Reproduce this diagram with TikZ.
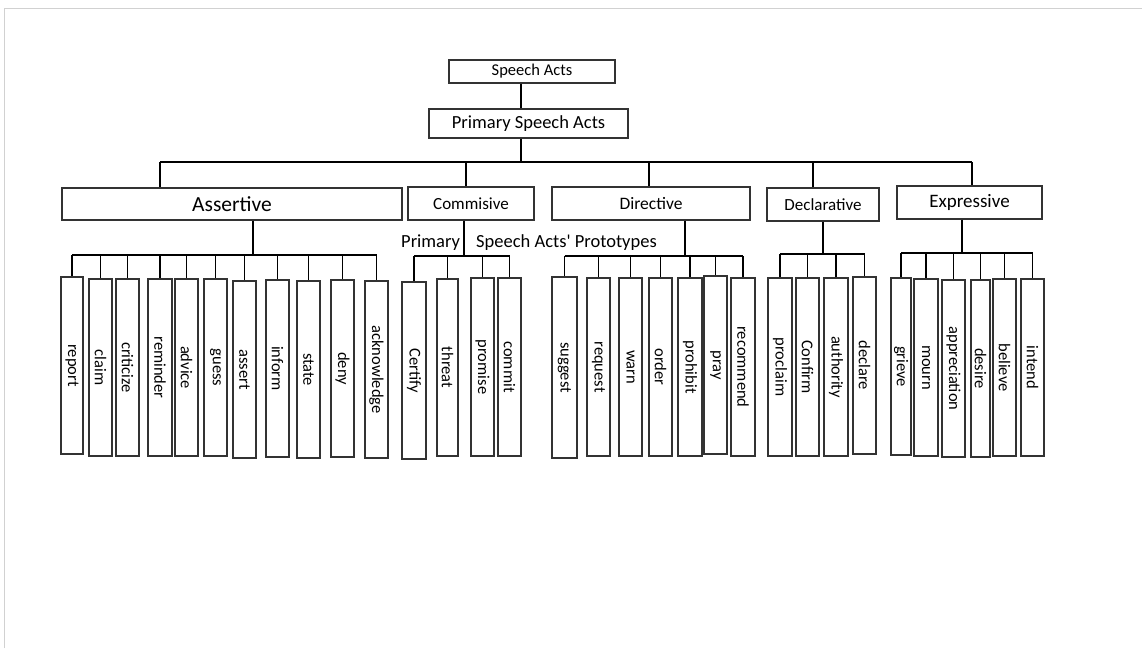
\documentclass[tikz,border=0pt]{standalone}
\usepackage{fontspec}
\setmainfont{Carlito}[Ligatures=TeXOff]
\tikzset{
  conn/.style={line width=1.8pt, black},
  boxst/.style={draw=black!80, line width=1.1pt, inner sep=0pt, fill=white, text=black},
  leaf/.style={boxst, rotate=-90, font=\fontsize{16.5}{18}\selectfont},
  cat/.style={boxst, font=\fontsize{17}{20}\selectfont},
}
\newcommand\leafbox[6]{%
  \pgfmathsetmacro\lw{#5-#4}\pgfmathsetmacro\lh{#3-#2}%
  \node[leaf, minimum width=\lw pt, minimum height=\lh pt] (#1) at ({(#2+#3)/2},{(#4+#5)/2}) {#6};}
\newcommand\catbox[7]{% name x1 x2 y1 y2 font text
  \pgfmathsetmacro\cw{#3-#2}\pgfmathsetmacro\ch{#5-#4}%
  \node[cat, minimum width=\cw pt, minimum height=\ch pt, font=\fontsize{#6}{#6}\selectfont] (#1) at ({(#2+#3)/2},{(#4+#5)/2}) {#7};}
\begin{document}
\begin{tikzpicture}[x=1pt,y=-1pt]
\useasboundingbox (0,0) rectangle (1142,648);
\draw[black!18, line width=1.2pt] (4.5,648) -- (4.5,8.5) -- (1142,8.5);

% top
\catbox{sa}{449}{615}{60}{83}{16.5}{Speech Acts}
\catbox{psa}{429}{628}{109}{138}{18.5}{Primary Speech Acts}
\coordinate (topx) at (521,0);
\coordinate (topbus) at (0,162);
\draw[conn] (topx |- sa.south) -- (topx |- psa.north);
\draw[conn] (topx |- psa.south) -- (topx |- topbus);

% categories
\catbox{ass}{62}{402}{188}{220}{21.5}{Assertive}
\catbox{com}{408}{534}{187}{220}{17}{Commisive}
\catbox{dir}{552}{750}{187}{220}{17.5}{Directive}
\catbox{dec}{767}{879}{188}{221}{17}{Declarative}
\catbox{exp}{897}{1042}{186}{219}{19}{Expressive}

\coordinate (dA) at (160,0);
\coordinate (dC) at (466,0);
\coordinate (dD) at (649,0);
\coordinate (dE) at (813,0);
\coordinate (dX) at (972,0);
\draw[conn] (dA |- topbus) -- (dX |- topbus);
\draw[conn] (dA |- topbus) -- (dA |- ass.north);
\draw[conn] (dC |- topbus) -- (dC |- com.north);
\draw[conn] (dD |- topbus) -- (dD |- dir.north);
\draw[conn] (dE |- topbus) -- (dE |- dec.north);
\draw[conn] (dX |- topbus) -- (dX |- exp.north);

% prototypes label
\node[anchor=west, inner sep=0pt, font=\fontsize{18.5}{20}\selectfont] (proto) at (401,243) {Primary\hspace{12pt} Speech Acts' Prototypes};

% leaves: Assertive
\leafbox{a1}{61}{83}{277}{454}{report}
\leafbox{a2}{89}{112}{279}{456}{claim}
\leafbox{a3}{116}{139}{279}{456}{criticize}
\leafbox{a4}{148}{172}{279}{456}{reminder}
\leafbox{a5}{175}{198}{279}{456}{advice}
\leafbox{a6}{204}{227}{279}{456}{guess}
\leafbox{a7}{233}{256}{281}{458}{assert}
\leafbox{a8}{266}{289}{280}{457}{inform}
\leafbox{a9}{297}{320}{281}{458}{state}
\leafbox{a10}{331}{354}{280}{457}{deny}
\leafbox{a11}{365}{388}{281}{458}{acknowledge}
% Commisive
\leafbox{c1}{402}{426}{282}{459}{Certify}
\leafbox{c2}{437}{458}{279}{456}{threat}
\leafbox{c3}{471}{494}{278}{456}{promise}
\leafbox{c4}{498}{521}{278}{456}{commit}
% Directive
\leafbox{d1}{552}{577}{277}{458}{suggest}
\leafbox{d2}{587}{610}{278}{456}{request}
\leafbox{d3}{619}{642}{278}{456}{warn}
\leafbox{d4}{649}{672}{278}{456}{order}
\leafbox{d5}{678}{702}{278}{456}{prohibit}
\leafbox{d6}{704}{727}{276}{454}{pray}
\leafbox{d7}{731}{755}{278}{456}{recommend}
% Declarative
\leafbox{e1}{768}{792}{278}{456}{proclaim}
\leafbox{e2}{796}{819}{278}{456}{Confirm}
\leafbox{e3}{824}{848}{278}{456}{authority}
\leafbox{e4}{853}{876}{277}{454}{declare}
% Expressive
\leafbox{x1}{891}{911}{278}{455}{grieve}
\leafbox{x2}{914}{938}{279}{456}{mourn}
\leafbox{x3}{942}{965}{280}{457}{appreciation}
\leafbox{x4}{971}{990}{280}{457}{desire}
\leafbox{x5}{993}{1016}{279}{456}{believe}
\leafbox{x6}{1021}{1044}{279}{456}{intend}

% sub-trees
\coordinate (jA) at (253,255);
\coordinate (jC) at (464,256);
\coordinate (jD) at (685,256);
\coordinate (jE) at (823,254);
\coordinate (jX) at (962,253);
\draw[conn] (jA |- ass.south) -- (jA);
\draw[conn] (jC |- com.south) -- (jC);
\draw[conn] (jD |- dir.south) -- (jD);
\draw[conn] (jE |- dec.south) -- (jE);
\draw[conn] (jX |- exp.south) -- (jX);

\draw[conn] (a1.west |- jA) -- (a11.west |- jA);
\foreach \n in {a1,a2,a3,a4,a5,a6,a7,a8,a9,a10,a11}
  \draw[conn] (\n.west |- jA) -- (\n.west);
\draw[conn] (c1.west |- jC) -- (c4.west |- jC);
\foreach \n in {c1,c2,c3,c4}
  \draw[conn] (\n.west |- jC) -- (\n.west);
\draw[conn] (d1.west |- jD) -- (d7.west |- jD);
\foreach \n in {d1,d2,d3,d4,d5,d6,d7}
  \draw[conn] (\n.west |- jD) -- (\n.west);
\draw[conn] (e1.west |- jE) -- (e4.west |- jE);
\foreach \n in {e1,e2,e3,e4}
  \draw[conn] (\n.west |- jE) -- (\n.west);
\draw[conn] (x1.west |- jX) -- (x6.west |- jX);
\foreach \n in {x1,x2,x3,x4,x5,x6}
  \draw[conn] (\n.west |- jX) -- (\n.west);
\end{tikzpicture}
\end{document}
